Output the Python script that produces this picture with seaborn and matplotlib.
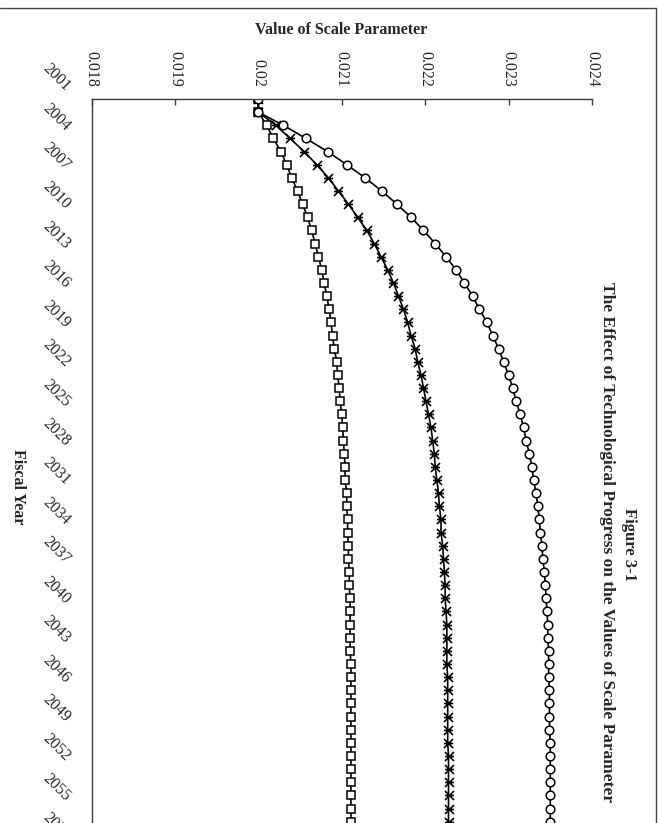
import numpy as np
import pandas as pd
import matplotlib
matplotlib.use("Agg")
import matplotlib.pyplot as plt
import matplotlib.transforms as mtransforms
from matplotlib.lines import Line2D
from matplotlib.path import Path
import seaborn as sns

# ==================== DATA ====================
years = list(range(2001, 2061))

circle_vals = [0.02000, 0.02000, 0.02030, 0.02057, 0.02083, 0.02106, 0.02128, 0.02148, 0.02166, 0.02183,
               0.02198, 0.02212, 0.02225, 0.02237, 0.02247, 0.02257, 0.02265, 0.02274, 0.02281, 0.02288,
               0.02294, 0.02300, 0.02305, 0.02309, 0.02314, 0.02318, 0.02321, 0.02325, 0.02328, 0.02330,
               0.02333, 0.02335, 0.02337, 0.02338, 0.02340, 0.02341, 0.02343, 0.02344, 0.02345, 0.02346,
               0.02347, 0.02347, 0.02348, 0.02348, 0.02348, 0.02349, 0.02349, 0.02349, 0.02349, 0.02350,
               0.02350, 0.02350, 0.02350, 0.02350, 0.02350, 0.02350, 0.02350, 0.02350, 0.02350, 0.02350]

star_vals = [0.02000, 0.02000, 0.02021, 0.02038, 0.02055, 0.02070, 0.02084, 0.02096, 0.02108, 0.02119,
             0.02130, 0.02139, 0.02147, 0.02155, 0.02162, 0.02168, 0.02174, 0.02179, 0.02183, 0.02188,
             0.02191, 0.02195, 0.02198, 0.02201, 0.02204, 0.02207, 0.02209, 0.02211, 0.02212, 0.02214,
             0.02216, 0.02217, 0.02219, 0.02219, 0.02221, 0.02222, 0.02223, 0.02224, 0.02224, 0.02225,
             0.02226, 0.02226, 0.02226, 0.02226, 0.02227, 0.02227, 0.02227, 0.02227, 0.02227, 0.02227,
             0.02228, 0.02228, 0.02228, 0.02228, 0.02228, 0.02228, 0.02228, 0.02228, 0.02228, 0.02228]

square_vals = [0.02000, 0.02000, 0.02010, 0.02018, 0.02027, 0.02034, 0.02040, 0.02047, 0.02053, 0.02059,
               0.02064, 0.02068, 0.02072, 0.02076, 0.02079, 0.02082, 0.02085, 0.02087, 0.02089, 0.02091,
               0.02094, 0.02095, 0.02097, 0.02098, 0.02100, 0.02101, 0.02102, 0.02103, 0.02104, 0.02104,
               0.02106, 0.02106, 0.02107, 0.02107, 0.02108, 0.02108, 0.02109, 0.02109, 0.02110, 0.02110,
               0.02110, 0.02110, 0.02110, 0.02111, 0.02111, 0.02111, 0.02111, 0.02111, 0.02111, 0.02111,
               0.02111, 0.02111, 0.02111, 0.02111, 0.02111, 0.02111, 0.02111, 0.02111, 0.02111, 0.02111]

value_ticks = [0.018, 0.019, 0.020, 0.021, 0.022, 0.023, 0.024]
value_tick_labels = ['0.018', '0.019', '0.02', '0.021', '0.022', '0.023', '0.024']

title_line1 = 'Figure 3-1'
title_line2 = 'The Effect of Technological Progress on the Values of Scale Parameter'
value_label = 'Value of Scale Parameter'
year_label = 'Fiscal Year'

# ==================== STYLE ====================
sns.set_style('white')
plt.rcParams['font.family'] = ['Liberation Serif', 'DejaVu Serif']

W, H = 659, 823
fig = plt.figure(figsize=(W / 100, H / 100), dpi=100)

# axes placed in pixel terms; the year axis runs past the bottom of the image
ax_left, ax_right, ax_top = 91.5, 592.0, 99.0
yr_step = 13.14
ax_bottom = ax_top + (len(years) - 1) * yr_step
ax = fig.add_axes([ax_left / W, 1 - ax_bottom / H, (ax_right - ax_left) / W, (ax_bottom - ax_top) / H])

# star marker: X with a bar through it (rotated Excel star)
star_path = Path([(-1, -1), (1, 1), (-1, 1), (1, -1), (-1, 0), (1, 0)],
                 [Path.MOVETO, Path.LINETO, Path.MOVETO, Path.LINETO, Path.MOVETO, Path.LINETO])

df = pd.DataFrame({'year': years, 'circle': circle_vals, 'star': star_vals, 'square': square_vals})

common = dict(orient='y', estimator=None, sort=False, color='black', linewidth=1.2, ax=ax)
sns.lineplot(data=df, x='square', y='year', marker='s', markersize=6.2,
             markerfacecolor='white', markeredgecolor='black', markeredgewidth=1.1, **common)
sns.lineplot(data=df, x='star', y='year', marker=star_path, markersize=6.5,
             markeredgecolor='black', markeredgewidth=1.2, **common)
sns.lineplot(data=df, x='circle', y='year', marker='o', markersize=6.2,
             markerfacecolor='white', markeredgecolor='black', markeredgewidth=1.1, **common)

ax.set_xlim(value_ticks[0], value_ticks[-1])
ax.set_ylim(years[-1], years[0])
ax.set_xlabel('')
ax.set_ylabel('')

for side in ['right', 'bottom']:
    ax.spines[side].set_visible(False)
for side in ['top', 'left']:
    ax.spines[side].set_color('#3a3a3a')
    ax.spines[side].set_linewidth(1.0)

# value axis on top, labels reading downward
ax.xaxis.tick_top()
ax.set_xticks(value_ticks)
ax.set_xticklabels(value_tick_labels, rotation=-90, ha='center', va='bottom', fontsize=11.5)
ax.tick_params(axis='x', direction='in', length=4, width=1, color='#3a3a3a', pad=9)

# year axis on the left, a tick every year, label every third year
ax.set_yticks(years)
ax.set_yticklabels([str(y) if (y - 2001) % 3 == 0 else '' for y in years],
                   rotation=-45, ha='right', va='center', rotation_mode='anchor', fontsize=11.5)
ax.tick_params(axis='y', direction='in', length=4, width=1, color='#3a3a3a', pad=17)
shift = mtransforms.ScaledTranslation(0, 10 / 100, fig.dpi_scale_trans)
for lab in ax.get_yticklabels():
    lab.set_transform(lab.get_transform() + shift)

# texts
fig.text(341.5 / W, 1 - 30 / H, value_label, ha='center', va='center',
         fontsize=11.5, fontweight='bold')
fig.text(18 / W, 1 - 487 / H, year_label, ha='center', va='center', rotation=-90,
         fontsize=11.5, fontweight='bold')
fig.text(629 / W, 1 - 545 / H, title_line1, ha='center', va='center', rotation=-90,
         fontsize=12, fontweight='bold')
fig.text(607 / W, 1 - 542 / H, title_line2, ha='center', va='center', rotation=-90,
         fontsize=12.5, fontweight='bold')

# chart-area border (top and right edges visible)
fig.add_artist(Line2D([0, 656 / W], [1 - 8 / H, 1 - 8 / H], transform=fig.transFigure,
                      color='#444444', linewidth=1.0))
fig.add_artist(Line2D([656 / W, 656 / W], [1 - 8 / H, 0], transform=fig.transFigure,
                      color='#444444', linewidth=1.0))

fig.savefig('out.png', dpi=100, facecolor='white')
